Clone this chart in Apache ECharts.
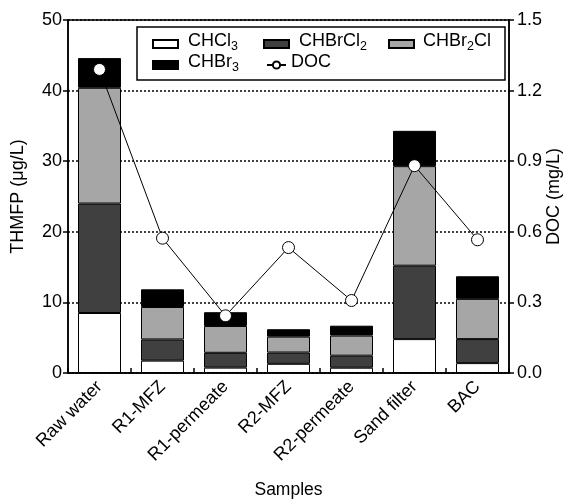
<!DOCTYPE html>
<html>
<head>
<meta charset="utf-8">
<script src="https://cdn.jsdelivr.net/npm/echarts@6/dist/echarts.min.js"></script>
<style>html,body{margin:0;padding:0;background:#fff}#c{width:566px;height:501px}</style>
</head>
<body>
<div id="c"></div>
<script>
var categories = ['Raw water', 'R1-MFZ', 'R1-permeate', 'R2-MFZ', 'R2-permeate', 'Sand filter', 'BAC'];
var chcl3   = [8.5, 1.75, 0.76, 1.3, 0.75, 4.8, 1.4];
var chbrcl2 = [15.5, 3.0, 2.1, 1.6, 1.7, 10.4, 3.4];
var chbr2cl = [16.4, 4.6, 3.8, 2.25, 2.85, 14.1, 5.7];
var chbr3   = [4.2, 2.5, 1.95, 1.05, 1.4, 5.0, 3.2];
var doc     = [1.29, 0.573, 0.243, 0.533, 0.308, 0.881, 0.566];
var leftTicks = [0, 10, 20, 30, 40, 50];
var rightTicks = ['0.0', '0.3', '0.6', '0.9', '1.2', '1.5'];

var FONT = '"Liberation Sans", Arial, Helvetica, sans-serif';
var chart = echarts.init(document.getElementById('c'));

var richTxt = {
  a: {fontSize: 18, fontFamily: FONT, color: '#000', verticalAlign: 'bottom', lineHeight: 18, padding: [0, 0, 3, 0]},
  b: {fontSize: 12.5, fontFamily: FONT, color: '#000', verticalAlign: 'bottom', lineHeight: 13}
};
var legendLabels = {
  'CHCl3': '{a|CHCl}{b|3}',
  'CHBrCl2': '{a|CHBrCl}{b|2}',
  'CHBr2Cl': '{a|CHBr}{b|2}{a|Cl}',
  'CHBr3': '{a|CHBr}{b|3}',
  'DOC': '{a|DOC}'
};
function mkLegend(name, left, top, w, h, pad) {
  return {
    data: [name], left: left, top: top, padding: 0,
    itemWidth: w, itemHeight: h, icon: name === 'DOC' ? undefined : 'rect',
    selectedMode: false,
    formatter: function (n) { return legendLabels[n]; },
    textStyle: {rich: richTxt, padding: [0, 0, 0, pad]}
  };
}

var barStyle = function (c) { return {color: c, borderColor: '#000', borderWidth: 1}; };

var option = {
  animation: false,
  backgroundColor: '#fff',
  grid: {left: 68, right: 57, top: 20, bottom: 128, containLabel: false, outerBoundsMode: 'none',
    show: true, borderColor: '#000', borderWidth: 1.5, backgroundColor: 'transparent'},
  graphic: [{type: 'rect', z: 3, shape: {x: 137, y: 27, width: 368, height: 53}, style: {fill: '#fff', stroke: '#000', lineWidth: 1.5}}],
  legend: [
    mkLegend('CHCl3', 152, 32, 25, 8, 5),
    mkLegend('CHBrCl2', 263, 32, 25, 8, 5),
    mkLegend('CHBr2Cl', 388, 32, 25, 8, 4),
    mkLegend('CHBr3', 152, 53, 25, 8, 5),
    mkLegend('DOC', 266, 53, 19, 9, 0)
  ],
  xAxis: {
    type: 'category', data: categories, boundaryGap: true,
    axisLine: {show: true, lineStyle: {color: '#000', width: 1.5}},
    axisTick: {show: true, inside: true, length: 5, lineStyle: {color: '#000', width: 1.5}},
    axisLabel: {rotate: 45, color: '#000', fontSize: 18, fontFamily: FONT, margin: 11, interval: 0},
    name: 'Samples', nameLocation: 'middle', nameGap: 108, nameMoveOverlap: false,
    nameTextStyle: {color: '#000', fontSize: 17.5, fontFamily: FONT}
  },
  yAxis: [{
    type: 'value', min: 0, max: 50, interval: 10,
    axisLine: {show: true, lineStyle: {color: '#000', width: 1.5}},
    axisTick: {show: true, inside: false, length: 5, lineStyle: {color: '#000', width: 1.5}},
    axisLabel: {color: '#000', fontSize: 18, fontFamily: FONT, margin: 6,
      formatter: function (v) { return leftTicks.indexOf(v) >= 0 ? String(v) : ''; }},
    splitLine: {show: true, lineStyle: {color: '#000', type: [2, 2], width: 1.5}},
    name: 'THMFP (μg/L)', nameLocation: 'middle', nameGap: 41, nameMoveOverlap: false,
    nameTextStyle: {color: '#000', fontSize: 18, fontFamily: FONT}
  }, {
    type: 'value', min: 0, max: 1.5, interval: 0.3, position: 'right',
    axisLine: {show: true, lineStyle: {color: '#000', width: 1.5}},
    axisTick: {show: true, inside: false, length: 5, lineStyle: {color: '#000', width: 1.5}},
    axisLabel: {color: '#000', fontSize: 18, fontFamily: FONT, margin: 8,
      formatter: function (v) { return rightTicks[Math.round(v / 0.3)]; }},
    splitLine: {show: false},
    name: 'DOC (mg/L)', nameLocation: 'middle', nameGap: 36, nameMoveOverlap: false,
    nameTextStyle: {color: '#000', fontSize: 18, fontFamily: FONT}
  }],
  series: [
    {name: 'CHCl3', type: 'bar', stack: 't', barWidth: 43, data: chcl3, itemStyle: barStyle('#ffffff')},
    {name: 'CHBrCl2', type: 'bar', stack: 't', barWidth: 43, data: chbrcl2, itemStyle: barStyle('#404040')},
    {name: 'CHBr2Cl', type: 'bar', stack: 't', barWidth: 43, data: chbr2cl, itemStyle: barStyle('#a6a6a6')},
    {name: 'CHBr3', type: 'bar', stack: 't', barWidth: 43, data: chbr3, itemStyle: barStyle('#000000')},
    {name: 'DOC', type: 'line', yAxisIndex: 1, data: doc, z: 5,
      symbol: 'circle', symbolSize: 12,
      lineStyle: {color: '#000', width: 1},
      itemStyle: {color: '#fff', borderColor: '#000', borderWidth: 1}}
  ]
};
chart.setOption(option);
</script>
</body>
</html>
